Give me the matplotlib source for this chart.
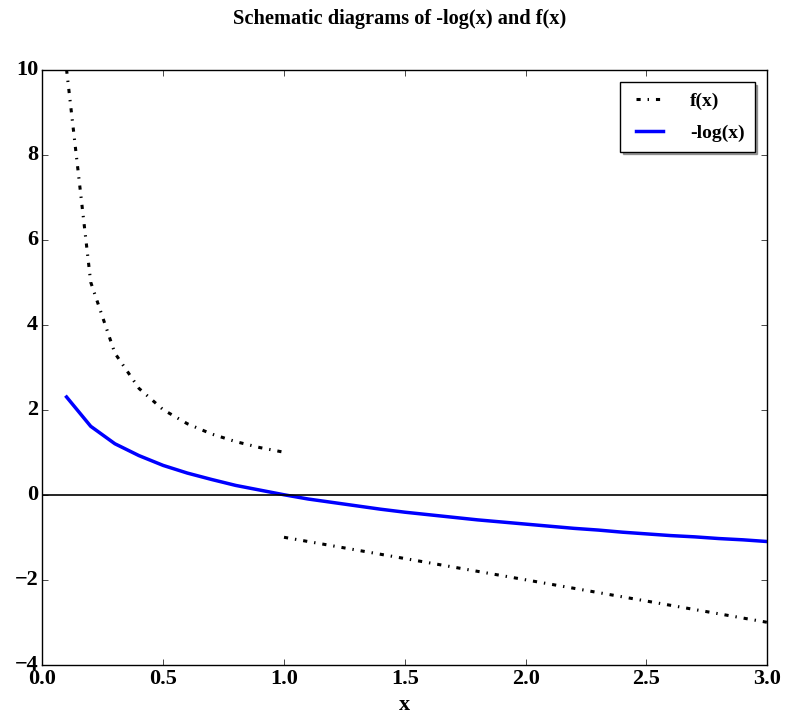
import matplotlib
matplotlib.use("Agg")
import matplotlib.pyplot as plt

plt.style.use("classic")
plt.rcParams['font.family'] = ['Liberation Serif', 'DejaVu Serif']
plt.rcParams['font.weight'] = 'bold'

# f(x) for x < 1
x_left = [0.1, 0.2, 0.3, 0.4, 0.5, 0.6, 0.7, 0.8, 0.9, 1.0]
f_left = [10.0, 5.0, 3.33, 2.5, 2.0, 1.67, 1.43, 1.25, 1.11, 1.0]
# f(x) for x >= 1
x_right = [1.0, 1.5, 2.0, 2.5, 3.0]
f_right = [-1.0, -1.5, -2.0, -2.5, -3.0]
# -log(x)
x_log = [0.1, 0.2, 0.3, 0.4, 0.5, 0.6, 0.7, 0.8, 0.9, 1.0,
         1.1, 1.2, 1.3, 1.4, 1.5, 1.6, 1.7, 1.8, 1.9, 2.0,
         2.1, 2.2, 2.3, 2.4, 2.5, 2.6, 2.7, 2.8, 2.9, 3.0]
neg_log = [2.30, 1.61, 1.20, 0.92, 0.69, 0.51, 0.36, 0.22, 0.11, 0.0,
           -0.10, -0.18, -0.26, -0.34, -0.41, -0.47, -0.53, -0.59, -0.64, -0.69,
           -0.74, -0.79, -0.83, -0.88, -0.92, -0.96, -0.99, -1.03, -1.06, -1.10]

fig = plt.figure(figsize=(8, 7.25), dpi=100, facecolor='white')
ax = fig.add_axes([0.053, 0.083, 0.906, 0.821])

ax.plot(x_left, f_left, 'k-.', lw=2.2, label='f(x)')
ax.plot(x_right, f_right, 'k-.', lw=2.2)
ax.plot(x_log, neg_log, 'b-', lw=2.5, label='-log(x)')
ax.axhline(0, color='k', lw=1.2)

ax.set_xlim(0, 3.0)
ax.set_ylim(-4, 10)
ax.set_xticks([0.0, 0.5, 1.0, 1.5, 2.0, 2.5, 3.0])
ax.set_yticks([-4, -2, 0, 2, 4, 6, 8, 10])
ax.tick_params(axis='x', labelsize=16, pad=3)
ax.tick_params(axis='y', labelsize=16, pad=3)
for lab in ax.get_xticklabels() + ax.get_yticklabels():
    lab.set_fontweight('bold')
ax.set_xlabel('x', fontsize=16, fontweight='bold', labelpad=4)
fig.suptitle('Schematic diagrams of -log(x) and f(x)', fontsize=14.7,
             fontweight='bold', y=0.987)

leg = ax.legend(loc='upper right', shadow=True, fontsize=14, handlelength=2.0,
                handletextpad=1.1, labelspacing=0.75, borderpad=0.5,
                borderaxespad=0.65)

fig.savefig('out.png', dpi=100, facecolor='white')
